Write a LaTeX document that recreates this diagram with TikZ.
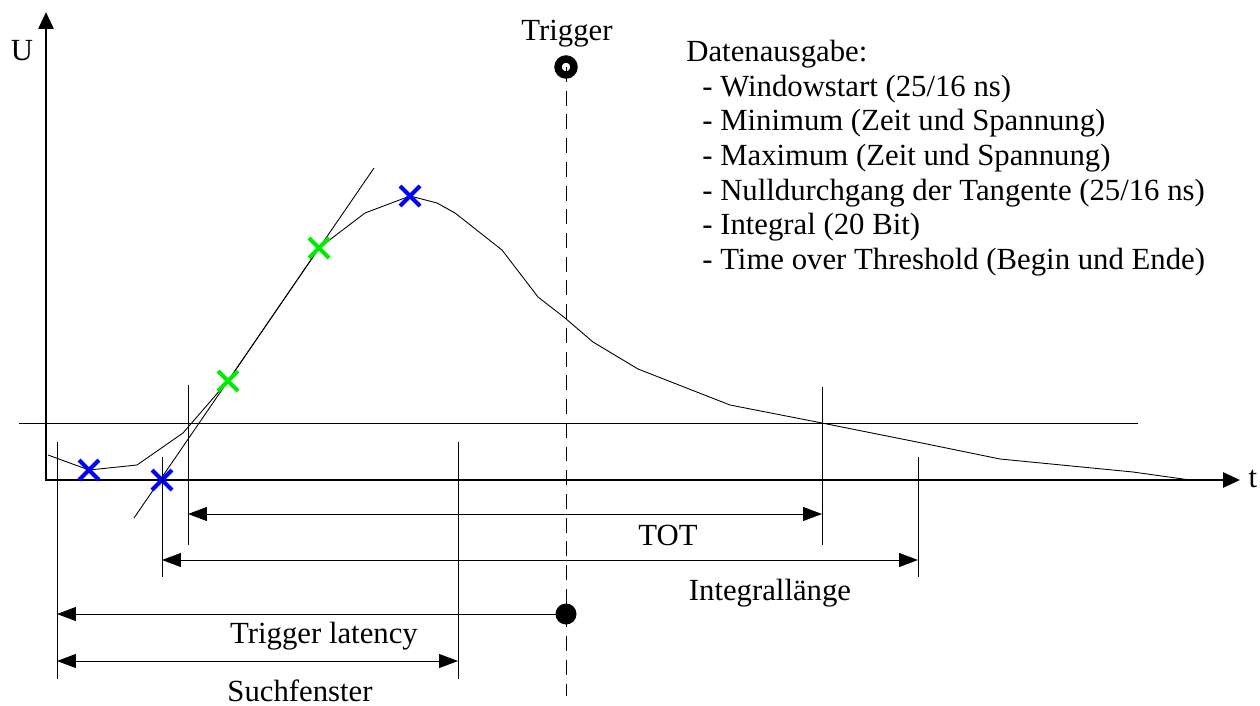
\documentclass[tikz,border=0pt]{standalone}
\usepackage{fontspec}
\setmainfont{Liberation Serif}
\usetikzlibrary{arrows.meta}
\definecolor{crossblue}{RGB}{0,0,255}
\definecolor{crossgreen}{RGB}{0,235,0}

\begin{document}
\begin{tikzpicture}[x=0.02cm,y=-0.02cm,
   axis/.style={line width=1.7pt,{Triangle[length=0.34cm,width=0.3cm]}-{Triangle[length=0.34cm,width=0.3cm]}},
   guide/.style={line width=0.55pt},
   dim/.style={line width=0.55pt,{Triangle[length=0.38cm,width=0.28cm]}-{Triangle[length=0.38cm,width=0.28cm]}},
   signal/.style={line width=0.5pt,line join=round},
   cross/.style={line width=2.4pt},
   lbl/.style={font=\fontsize{17.5}{20}\selectfont,inner sep=0pt,anchor=base}]
  \useasboundingbox (0,0) rectangle (1260,706);
  % axes and threshold
  \draw[axis] (46,12) -- (46,480) -- (1240,480);
  \node[lbl] (ulab) at (22,61) {U};
  \node[lbl] (tlab) at (1253,487) {t};
  \draw[guide] (19,423) -- (1138,423);
  % pulse and tangent
  \draw[signal] (48,455) -- (89,470) -- (137,465) -- (183,433) -- (228,381) -- (319,248)
     -- (365,213) -- (410,196) -- (437,203) -- (455,213) -- (502,250) -- (538,297) -- (565,318)
     -- (593,342) -- (638,369) -- (730,405) -- (822,423) -- (917,442) -- (1000,459)
     -- (1133,472) -- (1190,480);
  \draw[signal] (134,518) -- (374,168);
  % sample points
  \coordinate (pmin) at (89,470);
  \coordinate (pzero) at (162,480);
  \coordinate (pmax) at (410,196);
  \coordinate (plow) at (228,381);
  \coordinate (phigh) at (319,248);
  \foreach \pt/\col in {pmin/crossblue,pzero/crossblue,pmax/crossblue,plow/crossgreen,phigh/crossgreen}
    \draw[cross,\col] ([shift={(-10,-10)}]\pt) -- ([shift={(10,10)}]\pt)
                      ([shift={(-10,10)}]\pt) -- ([shift={(10,-10)}]\pt);
  % trigger
  \node[lbl] (trig) at (567,41) {Trigger};
  \coordinate (trc) at (566,67);
  \draw[line width=4.2pt] (trc) circle (0.16cm);
  \draw[guide,dash pattern=on 8.5pt off 5pt] (trc) -- (566,696);
  % extension lines
  \draw[guide] (57,442) -- (57,679);
  \draw[guide] (458,442) -- (458,679);
  \draw[guide] (162,457) -- (162,577);
  \draw[guide] (918,457) -- (918,577);
  \draw[guide] (188,385) -- (188,545);
  \draw[guide] (822,387) -- (822,545);
  % dimensions
  \coordinate (totL) at (188,514);
  \coordinate (totR) at (822,514);
  \draw[dim] (totL) -- (totR);
  \node[lbl] (tot) at (668,545) {TOT};
  \coordinate (intL) at (162,560);
  \coordinate (intR) at (918,560);
  \draw[dim] (intL) -- (intR);
  \node[lbl] (intl) at (770,600) {Integrallänge};
  \coordinate (latL) at (57,614);
  \coordinate (latR) at (566,614);
  \draw[guide,{Triangle[length=0.38cm,width=0.28cm]}-] (latL) -- (latR);
  \fill (latR) circle (0.21cm);
  \node[lbl] (lat) at (324,643) {Trigger latency};
  \coordinate (suL) at (57,661);
  \coordinate (suR) at (458,661);
  \draw[dim] (suL) -- (suR);
  \node[lbl] (such) at (300,701) {Suchfenster};
  % output list
  \node[lbl,anchor=base west] (out0) at (686,62) {Datenausgabe:};
  \foreach \txt [count=\i] in {{- Windowstart (25/16 ns)},{- Minimum (Zeit und Spannung)},
      {- Maximum (Zeit und Spannung)},{- Nulldurchgang der Tangente (25/16 ns)},
      {- Integral (20 Bit)},{- Time over Threshold (Begin und Ende)}}
    \node[lbl,anchor=base west] (out\i) at (702,62+34.5*\i) {\txt};
\end{tikzpicture}
\end{document}
